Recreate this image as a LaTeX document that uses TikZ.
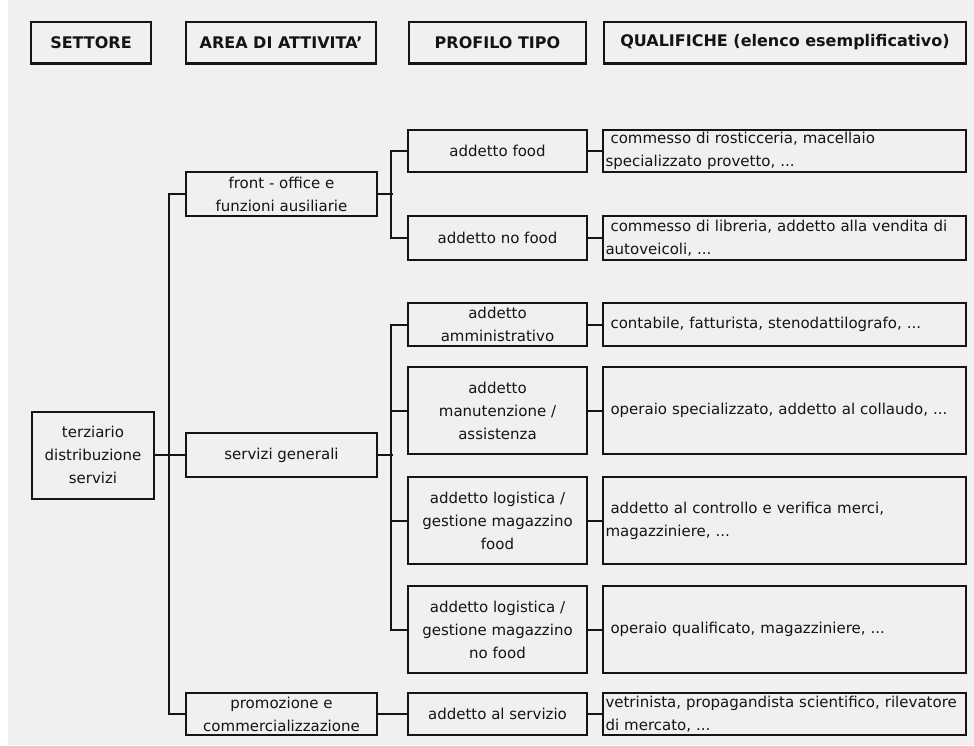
\documentclass[tikz,border=0pt]{standalone}
\usepackage{fontspec}
\setmainfont{DejaVu Sans}
\definecolor{bgg}{RGB}{240,240,240}
\definecolor{ink}{RGB}{20,20,20}
\begin{document}
\begin{tikzpicture}[x=1pt,y=-1pt,
  box/.style={draw=ink,line width=2pt,inner sep=1.5pt,align=center,
    font=\fontsize{15}{23}\selectfont,text=ink},
  qbox/.style={box,align=left,text width=358pt,inner xsep=1.5pt,minimum width=363pt},
  hdr/.style={draw=ink,line width=1.6pt,inner sep=2pt,align=center,
    font=\bfseries\fontsize{16}{19}\selectfont,text=ink,minimum height=41pt},
  conn/.style={draw=ink,line width=2pt}]
\fill[white] (0,0) rectangle (974,746);
\fill[bgg] (8,0) rectangle (974,745);
\useasboundingbox (0,0) rectangle (974,746);
% headers
\node[hdr,minimum width=120pt] (h1) at (91,42.5) {SETTORE};
\node[hdr,minimum width=190pt] (h2) at (281,42.5) {AREA DI ATTIVITA'};
\node[hdr,minimum width=177pt] (h3) at (497.5,42.5) {PROFILO TIPO};
\node[hdr,minimum width=362pt] (h4) at (785,42.5) {QUALIFICHE (elenco esemplificativo)};
\foreach \n in {h1,h2,h3,h4}{\draw[ink,line width=2.8pt] (\n.south west) -- (\n.south east);}
% column 1
\node[box,minimum width=122pt,minimum height=87pt] (terz) at (93,455) {terziario\\distribuzione\\servizi};
% column 2
\node[box,minimum width=191pt,minimum height=44pt] (front) at (281.5,194) {front - office e\\funzioni ausiliarie};
\node[box,minimum width=191pt,minimum height=44pt] (serv) at (281.5,455) {servizi generali};
\node[box,minimum width=191pt,minimum height=42pt] (promo) at (281.5,714) {promozione e\\commercializzazione};
% column 3
\node[box,minimum width=179pt,minimum height=42pt] (food) at (497.5,151) {addetto food};
\node[box,minimum width=179pt,minimum height=44pt] (nofood) at (497.5,238) {addetto no food};
\node[box,minimum width=179pt,minimum height=43pt] (amm) at (497.5,324.5) {addetto\\amministrativo};
\node[box,minimum width=179pt,minimum height=87pt] (man) at (497.5,410.5) {addetto\\manutenzione /\\assistenza};
\node[box,minimum width=179pt,minimum height=87pt] (logf) at (497.5,520.5) {addetto logistica /\\gestione magazzino\\food};
\node[box,minimum width=179pt,minimum height=87pt] (lognf) at (497.5,629.5) {addetto logistica /\\gestione magazzino\\no food};
\node[box,minimum width=179pt,minimum height=42pt] (servz) at (497.5,714) {addetto al servizio};
% column 4
\node[qbox,minimum height=42pt] (q1) at (784.5,151) {\hspace*{5pt}commesso di rosticceria, macellaio\\specializzato provetto, ...};
\node[qbox,minimum height=44pt] (q2) at (784.5,238) {\hspace*{5pt}commesso di libreria, addetto alla vendita di\\autoveicoli, ...};
\node[qbox,minimum height=43pt] (q3) at (784.5,324.5) {\hspace*{5pt}contabile, fatturista, stenodattilografo, ...};
\node[qbox,minimum height=87pt] (q4) at (784.5,410.5) {\hspace*{5pt}operaio specializzato, addetto al collaudo, ...};
\node[qbox,minimum height=87pt] (q5) at (784.5,520.5) {\hspace*{5pt}addetto al controllo e verifica merci,\\magazziniere, ...};
\node[qbox,minimum height=87pt] (q6) at (784.5,629.5) {\hspace*{5pt}operaio qualificato, magazziniere, ...};
\node[qbox,minimum height=42pt] (q7) at (784.5,714) {vetrinista, propagandista scientifico, rilevatore\\di mercato, ...};
% connectors
\draw[conn] (terz.east) -- (serv.west);
\draw[conn] (front.west) -- ++(-16,0) |- (promo.west);
\draw[conn] (front.east) -- ++(15,0);
\draw[conn] (food.west) -- ++(-16,0) |- (nofood.west);
\draw[conn] (serv.east) -- ++(15,0);
\draw[conn] (amm.west) -- ++(-16,0) |- (lognf.west);
\draw[conn] (man.west) -- ++(-16,0);
\draw[conn] (logf.west) -- ++(-16,0);
\draw[conn] (promo.east) -- (servz.west);
\draw[conn] (food.east) -- (q1.west);
\draw[conn] (nofood.east) -- (q2.west);
\draw[conn] (amm.east) -- (q3.west);
\draw[conn] (man.east) -- (q4.west);
\draw[conn] (logf.east) -- (q5.west);
\draw[conn] (lognf.east) -- (q6.west);
\draw[conn] (servz.east) -- (q7.west);
\end{tikzpicture}
\end{document}
